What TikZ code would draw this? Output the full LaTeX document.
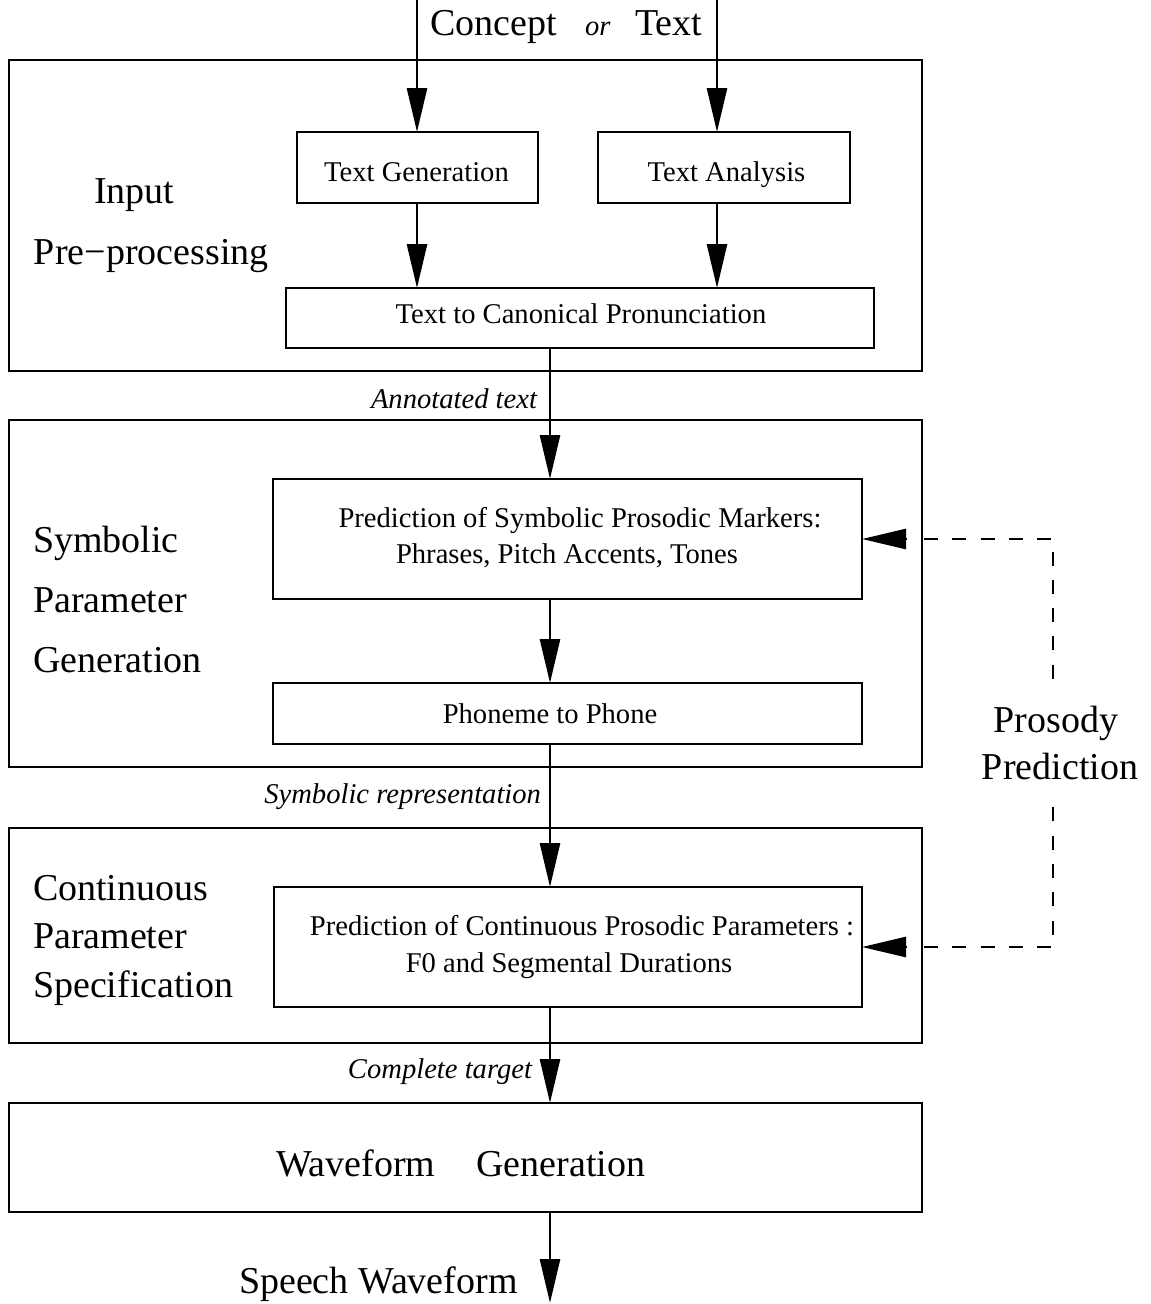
\documentclass[tikz,border=0pt]{standalone}
\usepackage{fontspec}
\setmainfont{Liberation Serif}
\usetikzlibrary{arrows.meta}

\begin{document}
\begin{tikzpicture}[x=1pt,y=-1pt,
  line width=2.7pt,
  box/.style={draw, line width=2.7pt, inner sep=0pt, outer sep=0pt},
  big/.style={font=\fontsize{38}{44}\selectfont, inner sep=0pt, outer sep=0pt},
  small/.style={font=\fontsize{28.6}{34}\selectfont, inner sep=0pt, outer sep=0pt},
  note/.style={font=\fontsize{28.6}{34}\selectfont\itshape, inner sep=0pt, outer sep=0pt},
  arr/.style={-{Triangle[length=44pt,width=20pt]}},
  dashline/.style={line width=2.7pt, dash pattern=on 14pt off 14.3pt}
]
\useasboundingbox (0,0) rectangle (1151,1304);

% stage frames
\node[box, minimum width=913pt, minimum height=311pt] (pre)  at (465.5,215.5) {};
\node[box, minimum width=913pt, minimum height=347pt] (sym)  at (465.5,593.5) {};
\node[box, minimum width=913pt, minimum height=215pt] (cont) at (465.5,935.5) {};
\node[box, minimum width=913pt, minimum height=109pt] (wave) at (465.5,1157.5) {};

% processing modules
\node[box, minimum width=241pt, minimum height=71pt]  (tg) at (417.5,167.5) {};
\node[box, minimum width=252pt, minimum height=71pt]  (ta) at (724,167.5) {};
\node[box, minimum width=588pt, minimum height=60pt]  (tc) at (580,318) {};
\node[box, minimum width=589pt, minimum height=120pt] (sp) at (567.5,539) {};
\node[box, minimum width=589pt, minimum height=61pt]  (pp) at (567.5,713.5) {};
\node[box, minimum width=588pt, minimum height=120pt] (pc) at (568,947) {};

% module texts
\node[small, anchor=base] (tgl) at (416.5,181) {Text Generation};
\node[small, anchor=base] (tal) at (726.5,181) {Text Analysis};
\node[small, anchor=base] (tcl) at (581,323) {Text to Canonical Pronunciation};
\node[small, anchor=base] (spa) at (580,527) {Prediction of Symbolic Prosodic Markers:};
\node[small, anchor=base] (spb) at (567,563) {Phrases, Pitch Accents, Tones};
\node[small, anchor=base] (ppl) at (550,723) {Phoneme to Phone};
\node[small, anchor=base] (pca) at (582,935) {Prediction of Continuous Prosodic Parameters :};
\node[small, anchor=base] (pcb) at (569,972) {F0 and Segmental Durations};
\node[big, anchor=base west] (wgl) at (276,1176) {Waveform\hspace{41pt}Generation};

% stage titles
\node[big, anchor=base west] (ip1) at (94,203) {Input};
\node[big, anchor=base west] (ip2) at (34,264) {Pre−processing};
\node[big, anchor=base west] (sg1) at (33,552) {Symbolic};
\node[big, anchor=base west] (sg2) at (33,612) {Parameter};
\node[big, anchor=base west] (sg3) at (33,672) {Generation};
\node[big, anchor=base west] (cs1) at (33,900) {Continuous};
\node[big, anchor=base west] (cs2) at (33,948) {Parameter};
\node[big, anchor=base west] (cs3) at (33,997) {Specification};

% inputs and output
\node[big, anchor=base west]  (cpt) at (430,35) {Concept};
\node[note, anchor=base west] (orw) at (585,35) {or};
\node[big, anchor=base west]  (txt) at (635,35) {Text};
\node[big, anchor=base west]  (spw) at (239,1293) {Speech Waveform};

% prosody loop label
\node[big, anchor=base] (pr1) at (1056,732) {Prosody};
\node[big, anchor=base] (pr2) at (1060,779) {Prediction};

% data labels on the main flow
\node[note, anchor=base east] (an) at (537,408) {Annotated text};
\node[note, anchor=base east] (sr) at (541,803) {Symbolic representation};
\node[note, anchor=base east] (ct) at (532,1078) {Complete target};

% main flow
\coordinate (in1) at (417,0);
\coordinate (in2) at (717,0);
\coordinate (col) at (550,0);
\coordinate (out) at (550,1303);
\draw[arr] (in1) -- (in1 |- tg.north);
\draw[arr] (in2) -- (in2 |- ta.north);
\draw[arr] (tg.south -| in1) -- (in1 |- tc.north);
\draw[arr] (ta.south -| in2) -- (in2 |- tc.north);
\draw[arr] (tc.south -| col) -- (col |- sp.north);
\draw[arr] (sp.south -| col) -- (col |- pp.north);
\draw[arr] (pp.south -| col) -- (col |- pc.north);
\draw[arr] (pc.south -| col) -- (col |- wave.north);
\draw[arr] (wave.south -| col) -- (out);

% prosody prediction feedback (dashed)
\coordinate (fa) at (924,539);
\coordinate (fae) at (1053,685);
\coordinate (fb) at (924,947);
\coordinate (fbe) at (1053,803);
\coordinate (ha) at (907,539);
\coordinate (hb) at (907,947);
\draw[dashline] (fa) -| (fae);
\draw[dashline] (fb) -| (fbe);
\draw[arr] (ha) -- (sp.east);
\draw[arr] (hb) -- (pc.east);
\end{tikzpicture}
\end{document}
